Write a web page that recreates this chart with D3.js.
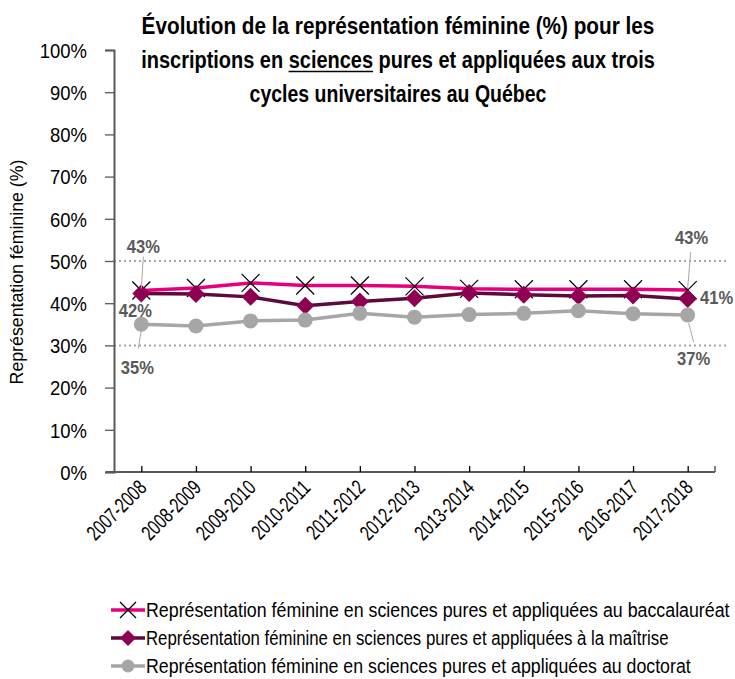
<!DOCTYPE html>
<html lang="fr">
<head>
	<meta charset="utf-8">
	<title>Représentation féminine en sciences</title>
	<script src="https://d3js.org/d3.v7.min.js" charset="utf-8"></script>
	<style>
		body { margin: 0; background: #fff; }
		svg text { font-family: "Liberation Sans", Arial, sans-serif; }
	</style>
</head>
<body>
	<script>
    // Données
    var years = ["2007-2008", "2008-2009", "2009-2010", "2010-2011", "2011-2012", "2012-2013",
                 "2013-2014", "2014-2015", "2015-2016", "2016-2017", "2017-2018"];
    var baccalaureat = [43.0, 43.6, 44.8, 44.2, 44.2, 44.0, 43.4, 43.3, 43.3, 43.3, 43.1];
    var maitrise     = [42.3, 42.2, 41.5, 39.4, 40.4, 41.2, 42.4, 42.0, 41.7, 41.8, 41.0];
    var doctorat     = [35.0, 34.6, 35.8, 36.0, 37.6, 36.7, 37.3, 37.6, 38.2, 37.5, 37.2];
    var yTicks = [0, 10, 20, 30, 40, 50, 60, 70, 80, 90, 100];
    var gridValues = [30, 50];
    var seriesNames = [
        "Représentation féminine en sciences pures et appliquées au baccalauréat",
        "Représentation féminine en sciences pures et appliquées à la maîtrise",
        "Représentation féminine en sciences pures et appliquées au doctorat"
    ];
    var titleLines = [
        "Évolution de la représentation féminine (%) pour les",
        "inscriptions en sciences pures et appliquées aux trois",
        "cycles universitaires au Québec"
    ];

    var width = 735,
        height = 679;

    // la police d'origine est étroite : on resserre le texte horizontalement
    function condense(sel, k) {
        sel.each(function() {
            var t = d3.select(this);
            var ax = +t.attr("x") || 0;
            var prev = t.attr("transform") || "";
            t.attr("transform", prev + " translate(" + ax + ",0) scale(" + k + ",1) translate(" + (-ax) + ",0)");
        });
    }
    function fitTo(sel, w) {
        sel.each(function() {
            var k = w / this.getComputedTextLength();
            condense(d3.select(this), k);
        });
    }

    var svg = d3.select("body").append("svg")
        .attr("width", width)
        .attr("height", height);

    var x = d3.scalePoint()
        .domain(years)
        .range([114, 715])
        .padding(0.5);

    var y = d3.scaleLinear()
        .domain([0, 100])
        .range([472, 50]);

    // Titre
    var titleWidths = [513, 514, 297];
    var title = svg.append("g")
        .selectAll("text")
        .data(titleLines)
        .enter().append("text")
        .attr("x", 398)
        .attr("y", function(d, i) { return 34 + i * 34; })
        .attr("text-anchor", "middle")
        .attr("font-weight", "bold")
        .attr("font-size", 24)
        .attr("fill", "#000")
        .text(function(d) { return d; })
        .each(function(d, i) { fitTo(d3.select(this), titleWidths[i]); });

    // soulignement du mot « sciences »
    var t2 = title.nodes()[1];
    var s0 = titleLines[1].indexOf("sciences");
    var k2 = titleWidths[1] / t2.getComputedTextLength();
    var ux0 = t2.getStartPositionOfChar(s0).x;
    var ux1 = t2.getEndPositionOfChar(s0 + 7).x;
    svg.append("line")
        .attr("x1", 398 + (ux0 - 398) * k2)
        .attr("x2", 398 + (ux1 - 398) * k2)
        .attr("y1", 71.5).attr("y2", 71.5)
        .attr("stroke", "#000")
        .attr("stroke-width", 1.6);

    // Quadrillage pointillé
    svg.append("g")
        .selectAll("line")
        .data(gridValues)
        .enter().append("line")
        .attr("x1", 114).attr("x2", 728)
        .attr("y1", function(d) { return y(d); })
        .attr("y2", function(d) { return y(d); })
        .attr("stroke", "#a6a6a6")
        .attr("stroke-width", 2)
        .attr("stroke-dasharray", "2,3");

    // Axe Y
    var yAxis = svg.append("g")
        .attr("transform", "translate(114,0)")
        .call(d3.axisLeft(y).tickValues(yTicks).tickSize(9).tickPadding(18)
            .tickFormat(function(d) { return d + "%"; }));
    yAxis.select(".domain").attr("stroke", "#595959").attr("stroke-width", 2);
    yAxis.selectAll(".tick line").attr("stroke", "#595959").attr("stroke-width", 1.3);
    yAxis.selectAll("text")
        .attr("font-size", 21)
        .attr("fill", "#000")
        .attr("dy", "0.35em")
        .call(condense, 0.88);

    svg.append("text")
        .attr("transform", "translate(23,272) rotate(-90)")
        .attr("text-anchor", "middle")
        .attr("font-size", 19)
        .attr("fill", "#000")
        .text("Représentation féminine (%)")
        .call(fitTo, 225);

    // Axe X
    var xAxis = svg.append("g")
        .attr("transform", "translate(0,472)")
        .call(d3.axisBottom(x).tickSize(-6).tickSizeOuter(0));
    xAxis.select(".domain").attr("stroke", "#595959").attr("stroke-width", 2)
        .attr("d", "M106,0H715");
    xAxis.selectAll(".tick line").attr("stroke", "#000").attr("stroke-width", 1.3);
    xAxis.append("line")
        .attr("x1", 715).attr("x2", 715).attr("y1", 0).attr("y2", -6)
        .attr("stroke", "#595959").attr("stroke-width", 1.5);
    xAxis.selectAll(".tick text")
        .attr("font-size", 21)
        .attr("fill", "#000")
        .attr("text-anchor", "end")
        .attr("dy", null)
        .attr("y", 0)
        .attr("transform", "translate(6,17) rotate(-45)")
        .call(condense, 0.74);

    var line = d3.line()
        .x(function(d, i) { return x(years[i]); })
        .y(function(d) { return y(d); });

    // Baccalauréat
    svg.append("path")
        .datum(baccalaureat)
        .attr("d", line)
        .attr("fill", "none")
        .attr("stroke", "#e6007e")
        .attr("stroke-width", 3.5);
    svg.append("g")
        .selectAll("path")
        .data(baccalaureat)
        .enter().append("path")
        .attr("d", "M-9,-9L9,9M-9,9L9,-9")
        .attr("transform", function(d, i) { return "translate(" + x(years[i]) + "," + y(d) + ")"; })
        .attr("stroke", "#000")
        .attr("stroke-width", 1.2);

    // Maîtrise
    svg.append("path")
        .datum(maitrise)
        .attr("d", line)
        .attr("fill", "none")
        .attr("stroke", "#5c0a3c")
        .attr("stroke-width", 3.5);
    svg.append("g")
        .selectAll("path")
        .data(maitrise)
        .enter().append("path")
        .attr("d", "M0,-9L9,0L0,9L-9,0Z")
        .attr("transform", function(d, i) { return "translate(" + x(years[i]) + "," + y(d) + ")"; })
        .attr("fill", "#8e0052");

    // Doctorat
    svg.append("path")
        .datum(doctorat)
        .attr("d", line)
        .attr("fill", "none")
        .attr("stroke", "#a6a6a6")
        .attr("stroke-width", 3.5);
    svg.append("g")
        .selectAll("circle")
        .data(doctorat)
        .enter().append("circle")
        .attr("cx", function(d, i) { return x(years[i]); })
        .attr("cy", function(d) { return y(d); })
        .attr("r", 7.5)
        .attr("fill", "#a6a6a6");

    // Étiquettes de données (première et dernière valeur)
    var first = years[0], last = years[years.length - 1];
    var labels = [
        { v: baccalaureat[0], cx: x(first), cy: y(baccalaureat[0]), tx: 2, ty: -38, lead: [2, -34, 0, -2] },
        { v: maitrise[0], cx: x(first), cy: y(maitrise[0]), tx: -6, ty: 24, lead: null },
        { v: doctorat[0], cx: x(first), cy: y(doctorat[0]), tx: -4, ty: 50, lead: [0, 6, -3, 24] },
        { v: baccalaureat[10], cx: x(last), cy: y(baccalaureat[10]), tx: 4, ty: -46, lead: [3, -38, 0, -2] },
        { v: maitrise[10], cx: x(last), cy: y(maitrise[10]), tx: 29, ty: 5, lead: null },
        { v: doctorat[10], cx: x(last), cy: y(doctorat[10]), tx: 6, ty: 50, lead: [1, 8, 6, 27] }
    ];
    svg.append("g")
        .selectAll("line")
        .data(labels.filter(function(d) { return d.lead; }))
        .enter().append("line")
        .attr("x1", function(d) { return d.cx + d.lead[0]; })
        .attr("y1", function(d) { return d.cy + d.lead[1]; })
        .attr("x2", function(d) { return d.cx + d.lead[2]; })
        .attr("y2", function(d) { return d.cy + d.lead[3]; })
        .attr("stroke", "#a6a6a6")
        .attr("stroke-width", 1);
    svg.append("g")
        .selectAll("text")
        .data(labels)
        .enter().append("text")
        .attr("x", function(d) { return d.cx + d.tx; })
        .attr("y", function(d) { return d.cy + d.ty; })
        .attr("text-anchor", "middle")
        .attr("font-weight", "bold")
        .attr("font-size", 18)
        .attr("fill", "#595959")
        .text(function(d) { return Math.round(d.v) + "%"; })
        .call(condense, 0.92);

    // Légende
    var legendColors = ["#e6007e", "#5c0a3c", "#a6a6a6"];
    var legendWidths = [584, 523, 545];
    var legend = svg.append("g")
        .selectAll("g")
        .data(seriesNames)
        .enter().append("g")
        .attr("transform", function(d, i) { return "translate(111," + (610 + i * 28) + ")"; });
    legend.append("line")
        .attr("x1", 0).attr("x2", 34)
        .attr("stroke", function(d, i) { return legendColors[i]; })
        .attr("stroke-width", 3.5);
    legend.filter(function(d, i) { return i === 0; }).append("path")
        .attr("d", "M-8,-8L8,8M-8,8L8,-8")
        .attr("transform", "translate(17,0)")
        .attr("stroke", "#000").attr("stroke-width", 1.2);
    legend.filter(function(d, i) { return i === 1; }).append("path")
        .attr("d", "M0,-8L8,0L0,8L-8,0Z")
        .attr("transform", "translate(17,0)")
        .attr("fill", "#8e0052");
    legend.filter(function(d, i) { return i === 2; }).append("circle")
        .attr("cx", 17).attr("r", 6.5)
        .attr("fill", "#a6a6a6");
    legend.append("text")
        .attr("x", 35)
        .attr("y", 7)
        .attr("font-size", 21)
        .attr("fill", "#000")
        .text(function(d) { return d; })
        .each(function(d, i) { fitTo(d3.select(this), legendWidths[i]); });
	</script>
</body>
</html>
